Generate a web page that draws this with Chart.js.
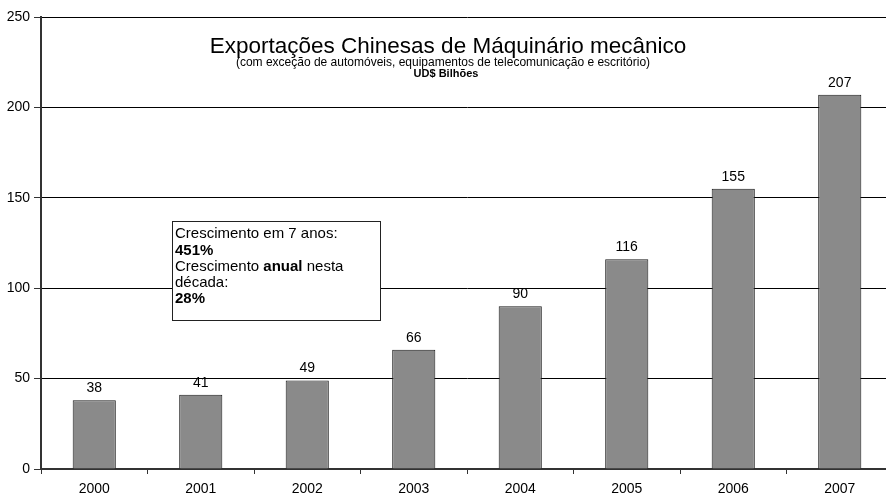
<!DOCTYPE html>
<html>
<head>
<meta charset="utf-8">
<script src="https://cdn.jsdelivr.net/npm/chart.js@4"></script>
<style>
  html, body { margin: 0; padding: 0; background: #fff; overflow: hidden; }
  #wrap { width: 894px; height: 495px; }
</style>
</head>
<body>
<div id="wrap"><canvas id="chart" width="894" height="495"></canvas></div>
<script>
// data
const years = ['2000', '2001', '2002', '2003', '2004', '2005', '2006', '2007'];
const exportsBn = [38, 41, 49, 66, 90, 116, 155, 207];
const yTicks = [0, 50, 100, 150, 200, 250];

const titleText = 'Exportações Chinesas de Máquinário mecânico';
const subtitleText = '(com exceção de automóveis, equipamentos de telecomunicação e escritório)';
const unitText = 'UD$ Bilhões';

const FONT = '"Liberation Sans", Arial, sans-serif';
Chart.defaults.font.family = FONT;
Chart.defaults.color = '#000';

// value labels over the bars + titles + the growth note box
const overlay = {
    id: 'overlay',
    afterDatasetsDraw(chart) {
        const ctx = chart.ctx;
        const meta = chart.getDatasetMeta(0);
        ctx.save();
        ctx.fillStyle = '#000';
        ctx.font = '14px ' + FONT;
        ctx.textAlign = 'center';
        ctx.textBaseline = 'middle';
        meta.data.forEach((bar, i) => {
            ctx.fillText(String(exportsBn[i]), bar.x, bar.y - 12);
        });

        // titles
        ctx.font = '22.5px ' + FONT;
        ctx.textBaseline = 'alphabetic';
        ctx.fillText(titleText, 448, 53);
        ctx.font = '12px ' + FONT;
        ctx.fillText(subtitleText, 443, 66);
        ctx.font = 'bold 11px ' + FONT;
        ctx.fillText(unitText, 446, 77);

        // note box
        ctx.fillStyle = '#fff';
        ctx.fillRect(172.5, 221.5, 208, 99);
        ctx.strokeStyle = '#222';
        ctx.lineWidth = 1;
        ctx.strokeRect(172.5, 221.5, 208, 99);
        ctx.fillStyle = '#000';
        ctx.textAlign = 'left';
        ctx.textBaseline = 'middle';
        const x0 = 175;
        const reg = '15px ' + FONT;
        const bold = 'bold 15px ' + FONT;
        ctx.font = reg;
        ctx.fillText('Crescimento em 7 anos:', x0, 234);
        ctx.font = bold;
        ctx.fillText('451%', x0, 251);
        ctx.font = reg;
        let w = ctx.measureText('Crescimento ').width;
        ctx.fillText('Crescimento ', x0, 267);
        ctx.font = bold;
        ctx.fillText('anual', x0 + w, 267);
        w += ctx.measureText('anual').width;
        ctx.font = reg;
        ctx.fillText(' nesta', x0 + w, 267);
        ctx.fillText('década:', x0, 283);
        ctx.font = bold;
        ctx.fillText('28%', x0, 299);
        ctx.restore();
    }
};

new Chart(document.getElementById('chart'), {
    type: 'bar',
    data: {
        labels: years,
        datasets: [{
            data: exportsBn,
            backgroundColor: '#8a8a8a',
            borderColor: '#1a1a1a',
            borderWidth: 1,
            barPercentage: 0.405,
            categoryPercentage: 1
        }]
    },
    options: {
        responsive: false,
        animation: false,
        layout: { padding: { left: 0, top: 17, right: 1, bottom: 0 } },
        plugins: {
            legend: { display: false },
            tooltip: { enabled: false }
        },
        scales: {
            x: {
                grid: {
                    offset: true,
                    drawOnChartArea: false,
                    drawTicks: true,
                    tickLength: 5,
                    tickColor: '#333'
                },
                border: { display: true, color: '#333', width: 2 },
                ticks: { font: { size: 14 }, color: '#000', padding: 7, maxRotation: 0 },
                afterFit(scale) { scale.height = 26; }
            },
            y: {
                min: 0,
                max: 250,
                afterBuildTicks(scale) { scale.ticks = yTicks.map(v => ({ value: v })); },
                grid: {
                    color: '#000',
                    lineWidth: 1,
                    drawTicks: true,
                    tickLength: 7,
                    tickColor: '#333'
                },
                border: { display: true, color: '#333', width: 2 },
                ticks: { font: { size: 14 }, color: '#000', padding: 4 },
                afterFit(scale) { scale.width = 41; }
            }
        }
    },
    plugins: [overlay]
});
</script>
</body>
</html>
